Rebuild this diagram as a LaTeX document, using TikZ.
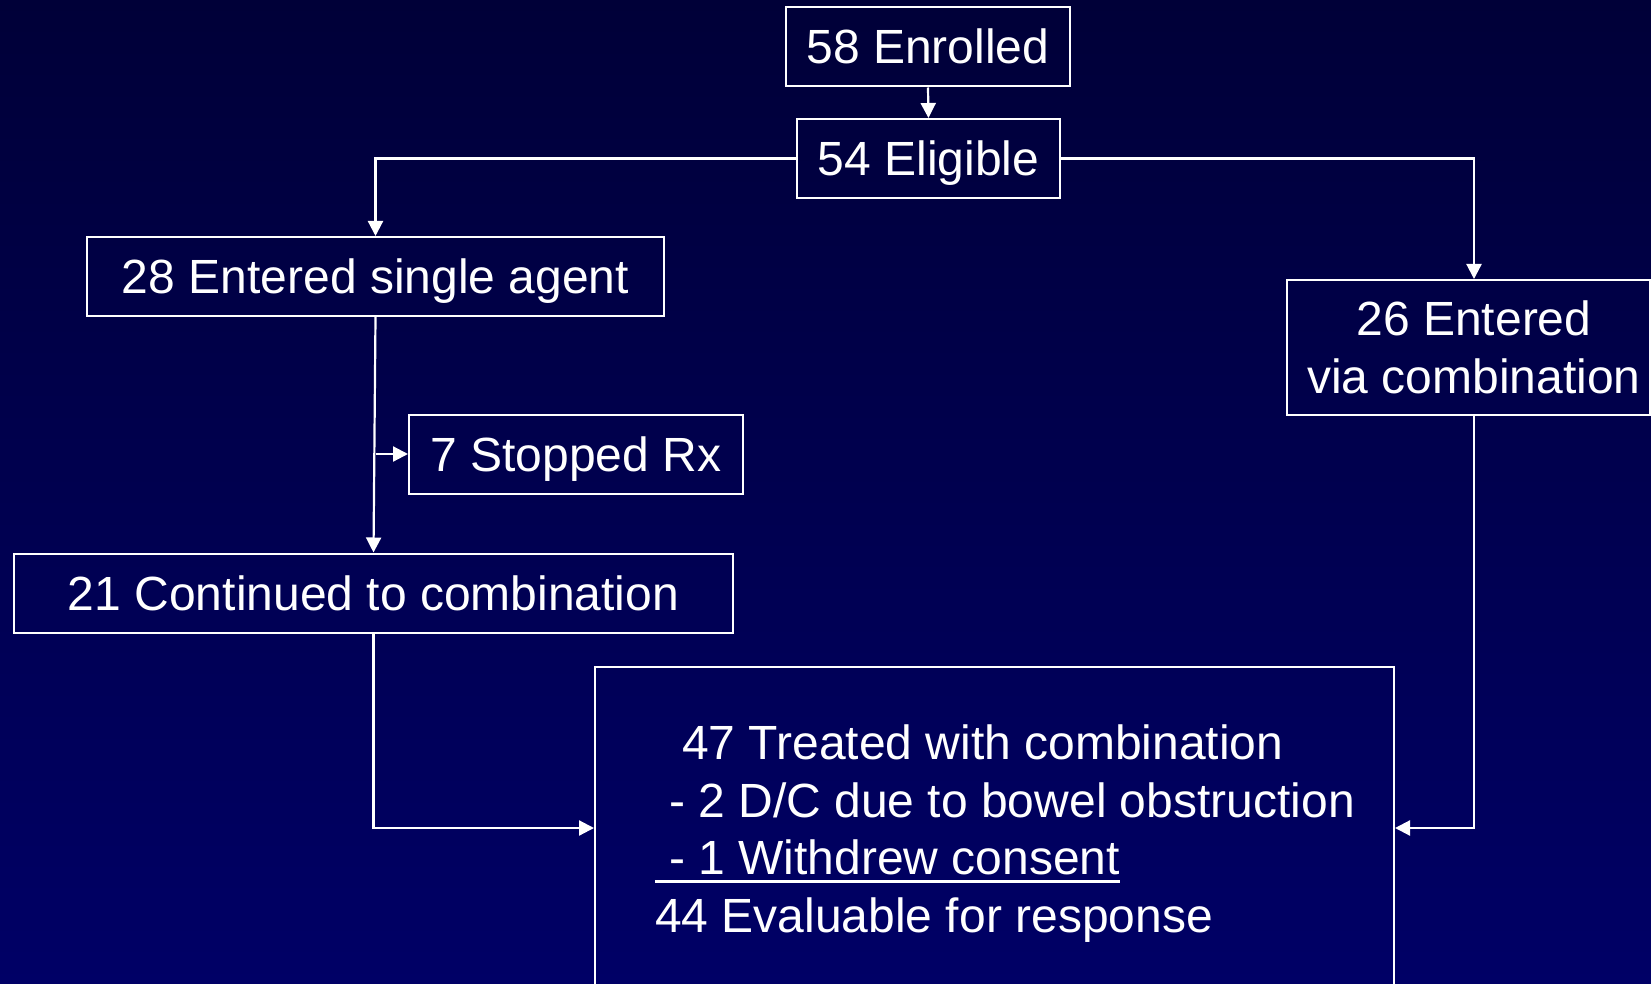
\documentclass[tikz,border=0pt]{standalone}
\usepackage{fontspec}
\setmainfont{Liberation Sans}
\usetikzlibrary{arrows.meta}
\definecolor{bgtop}{RGB}{0,0,56}
\definecolor{bgbottom}{RGB}{0,0,102}
\newcommand\thickuline[1]{\leavevmode\setbox0\hbox{#1}\rlap{\rule[-8pt]{\wd0}{3pt}}\box0}
\begin{document}
\begin{tikzpicture}
[x=1pt,y=-1pt,font=\fontsize{48}{57.5}\selectfont,
  boxdecorate/.style={draw=white,line width=2pt,inner sep=0pt,text=white},
  onelinedecorate/.style={boxdecorate,text height=34pt,text depth=0pt},
  arrowdecorate/.style={-{Triangle[length=15pt,width=15pt]},draw=white,line width=2.2pt}]
%% background
\shade[top color=bgtop,bottom color=bgbottom] (0,0) rectangle (1651,984);
\useasboundingbox (0,0) rectangle (1651,984);
%% nodes or boxes
\foreach \nodename/\x/\y/\w/\boxtext in {enrolled/928/47/284/58 Enrolled,
  eligible/928.5/158.5/263/54 Eligible, single/375.5/276.5/577/28 Entered single agent,
  stopped/576/454/334/7 Stopped Rx, continued/373.5/593/719/21 Continued to combination} {
  \node (\nodename) at (\x,\y) [onelinedecorate,minimum width=\w pt,minimum height=79pt] {\boxtext};
}
\node (viacomb) at (1468.5,347.5) [boxdecorate,minimum width=363pt,minimum height=135pt,align=center]
  {\hspace*{11pt}26 Entered\\\hspace*{11pt}via combination};
\node (treated) at (994.5,828) [boxdecorate,minimum width=799pt,minimum height=322pt] {};
\node (treatedtext) at (655,725) [anchor=north west,text=white,inner sep=0pt,text width=720pt,align=flush left]
  {\hspace*{27pt}47 Treated with combination\\
   \hspace*{14pt}- 2 D/C due to bowel obstruction\\
   \thickuline{\hspace*{14pt}- 1 Withdrew consent}\\
   44 Evaluable for response};
%% edges or arrows
\draw[arrowdecorate] (enrolled.south) -- (eligible.north);
\draw[arrowdecorate] (eligible.west) -| (single.north);
\draw[arrowdecorate] (eligible.east) -| ([xshift=5.5pt]viacomb.north);
\draw[arrowdecorate] (single.south) -- (continued.north);
\draw[arrowdecorate] (stopped.west -| single.south) -- (stopped.west);
\draw[arrowdecorate] (continued.south) |- (treated.west);
\draw[arrowdecorate] ([xshift=5.5pt]viacomb.south) |- (treated.east);
\end{tikzpicture}
\end{document}
